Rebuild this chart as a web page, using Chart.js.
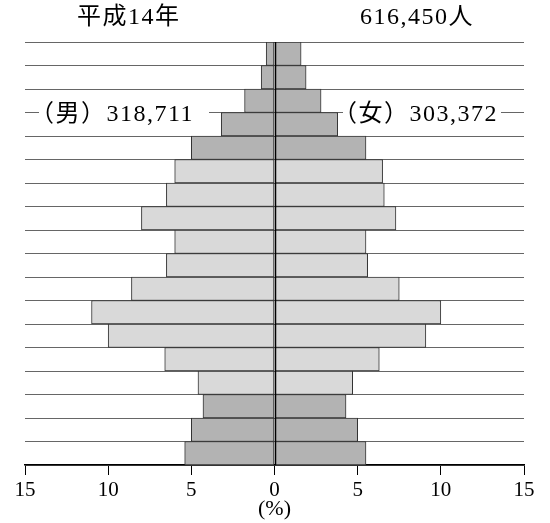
<!DOCTYPE html>
<html><head><meta charset="utf-8">
<script src="https://cdn.jsdelivr.net/npm/chart.js@4.4.0/dist/chart.umd.min.js"></script>
<style>html,body{margin:0;padding:0;background:#fff}</style>
</head><body>
<canvas id="c" width="550" height="523"></canvas>
<script>
// Age groups, bottom (0-4) to top (85+)
const ageGroups = ['0～4歳','5～9歳','10～14歳','15～19歳','20～24歳','25～29歳','30～34歳','35～39歳','40～44歳','45～49歳','50～54歳','55～59歳','60～64歳','65～69歳','70～74歳','75～79歳','80～84歳','85歳～'];
// Percent of population (male / female)
const malePct   = [5.4, 5.0, 4.3, 4.6, 6.6, 10.0, 11.0, 8.6, 6.5, 6.0, 8.0, 6.5, 6.0, 5.0, 3.2, 1.8, 0.8, 0.5];
const femalePct = [5.5, 5.0, 4.3, 4.7, 6.3, 9.1, 10.0, 7.5, 5.6, 5.5, 7.3, 6.6, 6.5, 5.5, 3.8, 2.8, 1.9, 1.6];
// Age bands: 'young' (0-14), 'working' (15-64), 'old' (65+)
const ageBand = ['young','young','young','working','working','working','working','working','working','working','working','working','working','old','old','old','old','old'];
const xMin = -15, xMax = 15, xStep = 5;
const yearLabel = '平成14年';
const totalLabel = '616,450人';
const maleLabel = '（男）318,711';
const femaleLabel = '（女）303,372';
const axisUnit = '(%)';

const SERIF = "'Liberation Serif','DejaVu Serif','Noto Sans CJK JP'";
const DARK = '#b3b3b3', LIGHT = '#d9d9d9';
const barColors = ageBand.map(b => b === 'working' ? LIGHT : DARK);

const overlay = {
  id: 'overlay',
  afterDatasetsDraw(chart) {
    const {ctx, chartArea: a, scales: {x}} = chart;
    const x0 = Math.round(x.getPixelForValue(0)) + 0.5;
    ctx.save();
    ctx.strokeStyle = '#000';
    ctx.lineWidth = 1.5;
    ctx.beginPath();
    ctx.moveTo(x0, a.top);
    ctx.lineTo(x0, a.bottom);
    ctx.stroke();
    ctx.restore();
  },
  afterDraw(chart) {
    const {ctx, scales: {y}} = chart;
    ctx.save();
    ctx.fillStyle = '#000';
    ctx.font = "24px " + SERIF;
    ctx.textBaseline = 'middle';
    ctx.textAlign = 'left';
    try { ctx.letterSpacing = '1.5px'; } catch (e) {}
    ctx.fillText(yearLabel, 77, 18);
    ctx.fillText(totalLabel, 360, 18);
    const lineY = (y.getPixelForValue(14) + y.getPixelForValue(15)) / 2;
    ctx.fillStyle = '#fff';
    ctx.fillRect(39, lineY - 3, 170, 6);
    ctx.fillRect(343, lineY - 3, 158, 6);
    ctx.fillStyle = '#000';
    ctx.fillText(maleLabel, 30, lineY + 2);
    ctx.fillText(femaleLabel, 333, lineY + 2);
    ctx.restore();
  }
};

new Chart(document.getElementById('c'), {
  type: 'bar',
  data: {
    labels: ageGroups,
    datasets: [
      { label: '男', data: malePct.map(v => -v), backgroundColor: barColors, borderColor: '#333', borderWidth: 1, borderSkipped: false, barPercentage: 1, categoryPercentage: 1 },
      { label: '女', data: femalePct, backgroundColor: barColors, borderColor: '#333', borderWidth: 1, borderSkipped: false, barPercentage: 1, categoryPercentage: 1 }
    ]
  },
  options: {
    indexAxis: 'y',
    responsive: false,
    animation: false,
    devicePixelRatio: 1,
    layout: { padding: { left: 25, right: 26, top: 42, bottom: 0 } },
    plugins: { legend: { display: false }, tooltip: { enabled: false } },
    scales: {
      x: {
        type: 'linear', min: xMin, max: xMax, stacked: true,
        ticks: { stepSize: xStep, autoSkip: false, maxRotation: 0, padding: 3, color: '#000',
                 font: { family: SERIF, size: 21 }, callback: v => Math.abs(v) },
        grid: { drawOnChartArea: false, drawTicks: true, tickLength: 10, tickColor: '#000', color: '#000', lineWidth: 1 },
        border: { display: true, color: '#000', width: 1.5 },
        title: { display: true, text: axisUnit, color: '#000', font: { family: SERIF, size: 22 }, padding: { top: 0, bottom: 1 } },
        afterFit: s => { s.height = 58; }
      },
      y: {
        stacked: true, reverse: true,
        ticks: { display: false },
        grid: { color: '#666', lineWidth: 1, drawTicks: false, offset: true },
        border: { display: false },
        afterFit: s => { s.width = 0; }
      }
    }
  },
  plugins: [overlay]
});
</script>
</body></html>
